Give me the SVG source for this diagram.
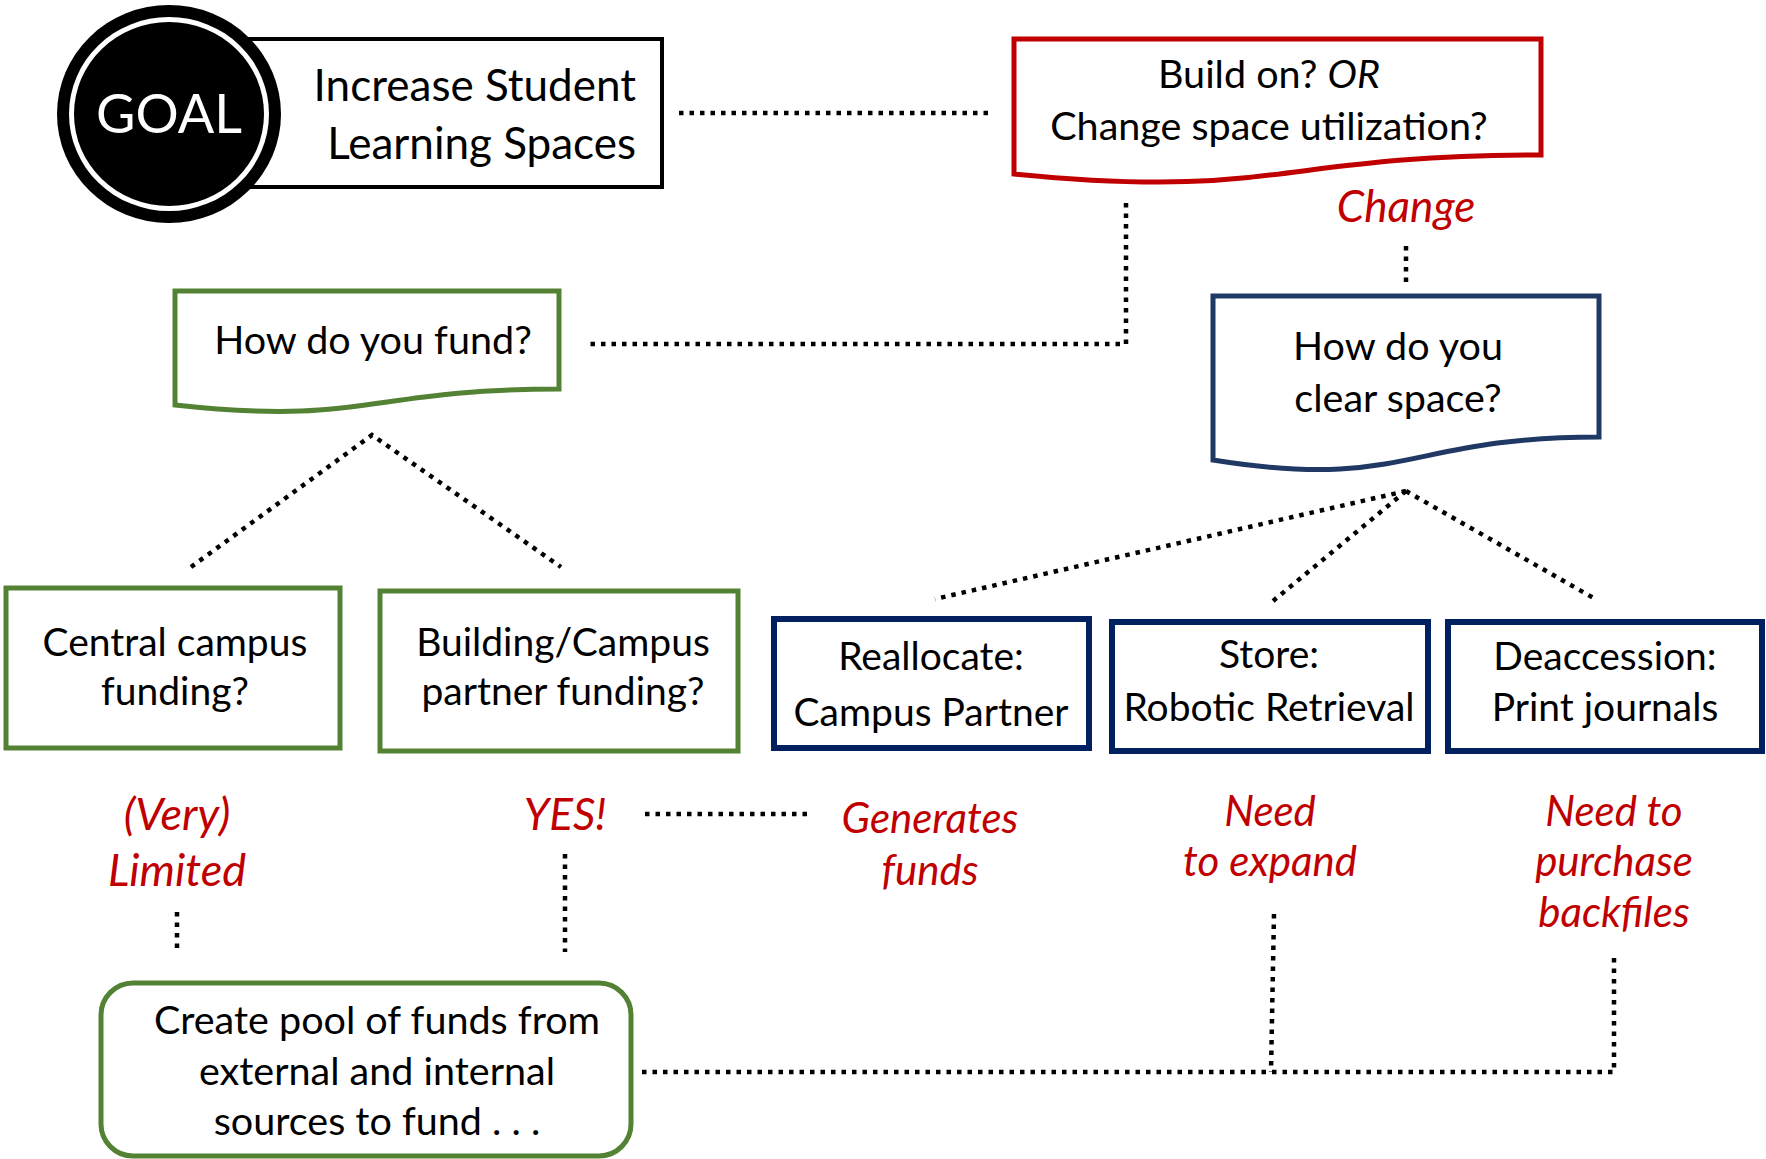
<svg xmlns="http://www.w3.org/2000/svg" width="1766" height="1159" viewBox="0 0 1766 1159">
<style>
.t{font-family:Lato,"Open Sans","Liberation Sans",sans-serif;fill:#000;text-anchor:middle;font-size:39px}
.r{font-family:Lato,"Open Sans","Liberation Sans",sans-serif;fill:#C00000;font-style:italic;text-anchor:middle;font-size:42px}
.dot{fill:none;stroke:#000;stroke-width:4.5;stroke-dasharray:4.5 6}
.g{fill:#fff;stroke:#548235;stroke-width:5}
.b{fill:#fff;stroke:#002060;stroke-width:6}
</style>
<rect width="1766" height="1159" fill="#fff"/>
<g id="connectors">
<line class="dot" x1="679" y1="113" x2="991" y2="113"/>
<polyline class="dot" points="1126,203 1126,344 588,344"/>
<line class="dot" x1="1406" y1="246" x2="1406" y2="284"/>
<polyline class="dot" points="191,567 372,435 561,567"/>
<line class="dot" x1="1406" y1="491" x2="935" y2="599"/>
<line class="dot" x1="1406" y1="491" x2="1273" y2="601"/>
<line class="dot" x1="1406" y1="491" x2="1597" y2="600"/>
<line class="dot" x1="177" y1="912" x2="177" y2="950"/>
<line class="dot" x1="565" y1="854" x2="565" y2="952"/>
<line class="dot" x1="645" y1="814" x2="809" y2="814"/>
<polyline class="dot" points="1274,914 1271,1072"/>
<polyline class="dot" points="642,1072 1614,1072 1614,952"/>
</g>
<g id="goal">
<rect x="230" y="39" width="432" height="148" fill="#fff" stroke="#000" stroke-width="4"/>
<ellipse cx="169" cy="114" rx="112" ry="109" fill="#000"/>
<ellipse cx="169" cy="114" rx="100" ry="97" fill="#fff"/>
<ellipse cx="169" cy="114" rx="95" ry="92" fill="#000"/>
<text class="t" x="169" y="133" style="fill:#fff;font-size:54px">GOAL</text>
<text class="t" x="636" y="101" style="text-anchor:end;font-size:44px">Increase Student</text>
<text class="t" x="636" y="159" style="text-anchor:end;font-size:44px">Learning Spaces</text>
</g>
<g id="build">
<path d="M1014,39 H1541 V155 C1277,155 1277,200 1014,174 Z" fill="#fff" stroke="#C00000" stroke-width="5"/>
<text class="t" x="1269" y="88" style="font-size:39.5px">Build on? <tspan font-style="italic">OR</tspan></text>
<text class="t" x="1269" y="140" style="font-size:39.5px">Change space utilization?</text>
</g>
<g id="change-label"><text class="r" x="1406" y="222" style="font-size:44px">Change</text></g>
<g id="fund">
<path d="M175,291 H559 V389 C367,389 367,426 175,405 Z" class="g"/>
<text class="t" x="373" y="354" style="font-size:39.5px">How do you fund?</text>
</g>
<g id="clear">
<path d="M1213,296 H1599 V437 C1406,437 1406,491 1213,460 Z" fill="#fff" stroke="#203864" stroke-width="5"/>
<text class="t" x="1398" y="360" style="font-size:39.5px">How do you</text>
<text class="t" x="1398" y="412" style="font-size:39.5px">clear space?</text>
</g>
<g id="central">
<rect x="6" y="588" width="334" height="160" class="g"/>
<text class="t" x="175" y="656">Central campus</text>
<text class="t" x="175" y="705">funding?</text>
</g>
<g id="partner">
<rect x="380" y="591" width="358" height="160" class="g"/>
<text class="t" x="563" y="656">Building/Campus</text>
<text class="t" x="563" y="705">partner funding?</text>
</g>
<g id="reallocate">
<rect x="774" y="619" width="315" height="129" class="b"/>
<text class="t" x="931" y="670">Reallocate:</text>
<text class="t" x="931" y="726">Campus Partner</text>
</g>
<g id="store">
<rect x="1112" y="622" width="316" height="129" class="b"/>
<text class="t" x="1269" y="668">Store:</text>
<text class="t" x="1269" y="721">Robotic Retrieval</text>
</g>
<g id="deaccession">
<rect x="1448" y="622" width="314" height="129" class="b"/>
<text class="t" x="1605" y="670">Deaccession:</text>
<text class="t" x="1605" y="721">Print journals</text>
</g>
<g id="labels">
<text class="r" x="177" y="830" style="font-size:45px">(Very)</text>
<text class="r" x="177" y="886" style="font-size:45px">Limited</text>
<text class="r" x="565" y="830" style="font-size:44px">YES!</text>
<text class="r" x="930" y="833">Generates</text>
<text class="r" x="930" y="885">funds</text>
<text class="r" x="1270" y="826">Need</text>
<text class="r" x="1270" y="876">to expand</text>
<text class="r" x="1614" y="826">Need to</text>
<text class="r" x="1614" y="876">purchase</text>
<text class="r" x="1614" y="927">backfiles</text>
</g>
<g id="pool">
<rect x="101" y="983" width="530" height="173" rx="32" class="g"/>
<text class="t" x="377" y="1034" style="font-size:39.5px">Create pool of funds from</text>
<text class="t" x="377" y="1085" style="font-size:39.5px">external and internal</text>
<text class="t" x="377" y="1135" style="font-size:39.5px">sources to fund . . .</text>
</g>
</svg>
